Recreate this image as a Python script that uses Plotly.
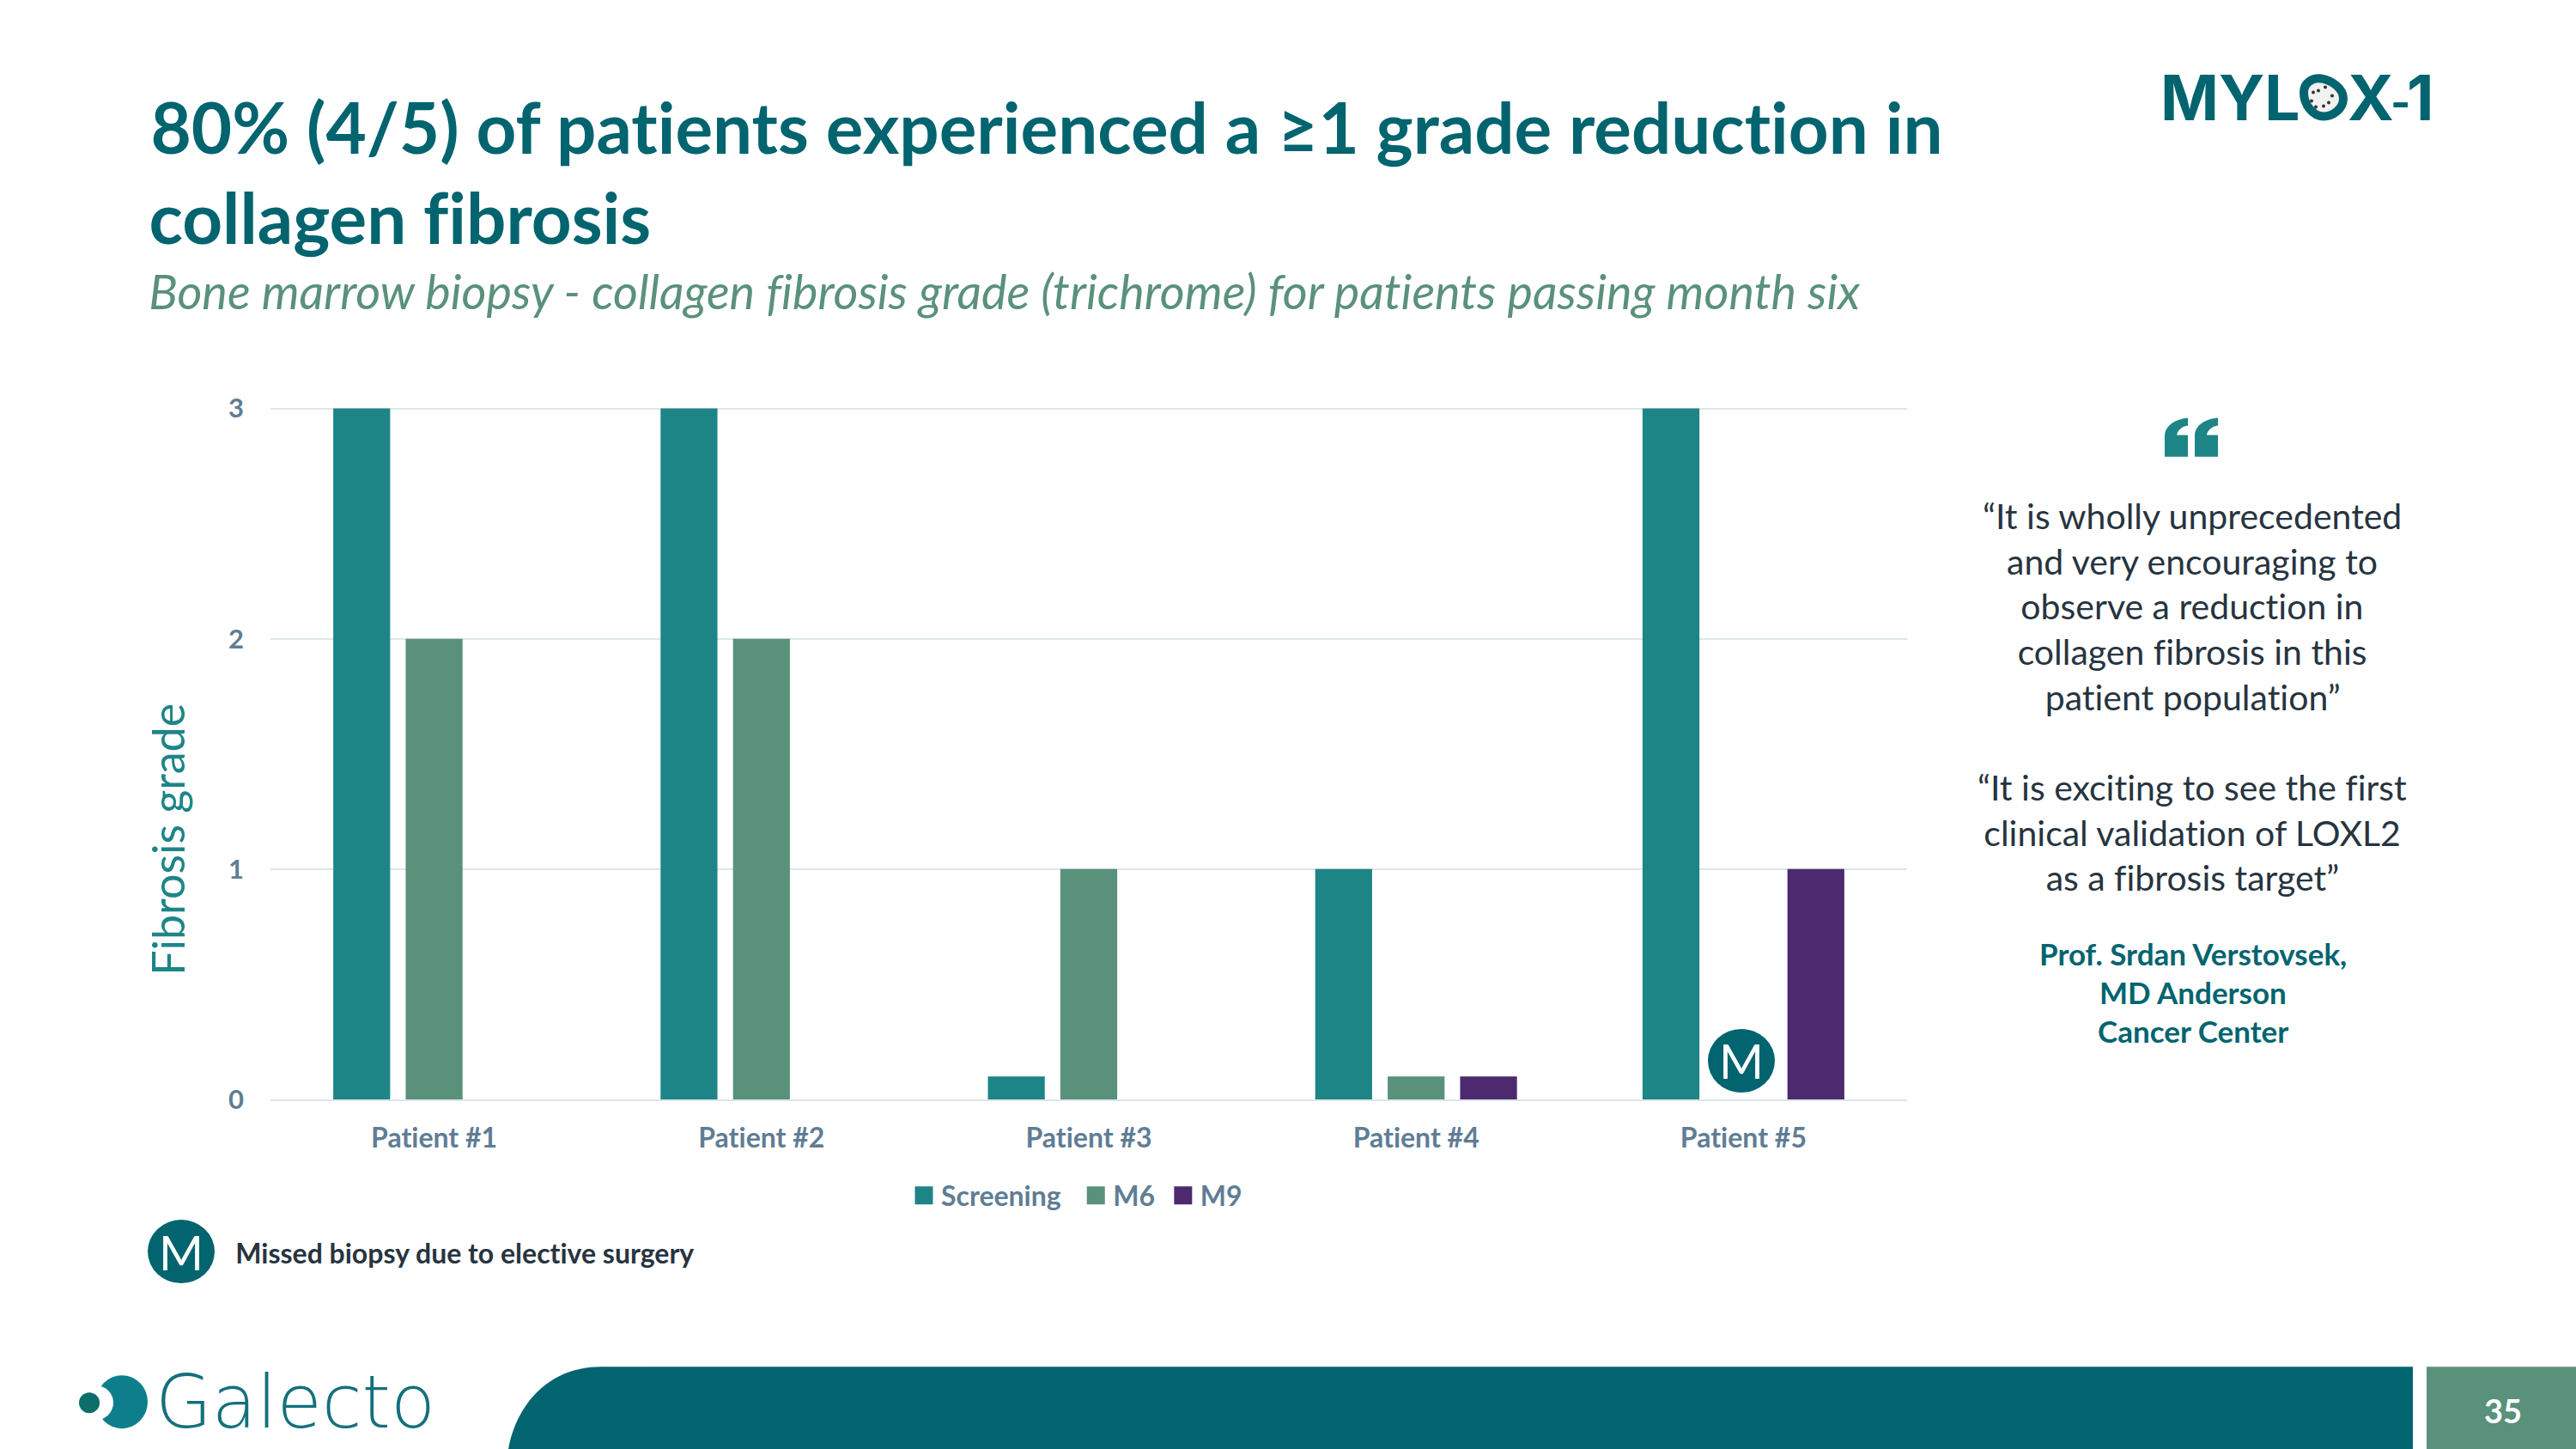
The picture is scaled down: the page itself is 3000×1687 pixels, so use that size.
import plotly.graph_objects as go

# ---- data ----
patients = ["Patient #1", "Patient #2", "Patient #3", "Patient #4", "Patient #5"]
screening = [3, 3, 0.1, 1, 3]
m6 = [2, 2, 1, 0.1, None]
m9 = [None, None, None, 0.1, 1]
series_names = ["Screening", "M6", "M9"]
y_ticks = [0, 1, 2, 3]

title_lines = ["80% (4/5) of patients experienced a ≥1 grade reduction in", "collagen fibrosis"]
subtitle = "Bone marrow biopsy - collagen fibrosis grade (trichrome) for patients passing month six"
quote_lines = [
    ("“It is wholly unprecedented", 0), ("and very encouraging to", 1), ("observe a reduction in", 2),
    ("collagen fibrosis in this", 3), ("patient population”", 4),
    ("“It is exciting to see the first", 6), ("clinical validation of LOXL2", 7), ("as a fibrosis target”", 8),
]
attribution = ["Prof. Srdan Verstovsek,", "MD Anderson", "Cancer Center"]

# ---- style ----
W, H = 3000, 1687
L, R, T, B = 315, 2221, 474.4, 1280
Y_TOP = 3.006
TEAL_D = "#02646F"
TEAL = "#1E8587"
SAGE = "#5A917B"
PURPLE = "#4D2A70"
AXIS_TXT = "#5F7D95"
DARK = "#27343F"
GRID = "#DCE6EA"
FONT = "Lato"
colors = [TEAL, SAGE, PURPLE]
legend_pad = ["\u00a0\u00a0", "\u00a0", ""]


def fx(px):
    return (px - L) / (R - L)


def fy(py):
    return (B - py) / (B - T)


fig = go.Figure()
for name, vals, col in zip(series_names, [screening, m6, m9], colors):
    fig.add_trace(go.Bar(name=name, x=patients, y=vals, marker=dict(color=col, line=dict(width=0)),
                         legendgroup=name, showlegend=False))
# legend swatches (the bar swatch size is fixed and too small)
for name, pad, col in zip(series_names, legend_pad, colors):
    fig.add_trace(go.Scatter(name=name + pad, x=[None], y=[None], mode="markers",
                             legendgroup=name,
                             marker=dict(symbol="square", size=16, color=col, line=dict(color=col, width=5))))

annotations = []
shapes = []


def text(s, x, y, size, color, anchor="left", weight=400, style="normal", family=FONT, angle=0):
    annotations.append(dict(text=s, x=fx(x), y=fy(y), xref="paper", yref="paper", showarrow=False,
                            xanchor=anchor, yanchor="middle", textangle=angle,
                            font=dict(family=family, size=size, color=color, weight=weight, style=style)))


def circle(cx, cy, rx, ry, color):
    shapes.append(dict(type="circle", xref="paper", yref="paper", x0=fx(cx - rx), x1=fx(cx + rx),
                       y0=fy(cy + ry), y1=fy(cy - ry), fillcolor=color, line=dict(width=0)))


def path(cmds, fill, line_color=None, line_width=0):
    out = []
    for c in cmds:
        if isinstance(c, str):
            out.append(c)
        else:
            out.append(f"{fx(c[0]):.5f},{fy(c[1]):.5f}")
    shapes.append(dict(type="path", xref="paper", yref="paper", path=" ".join(out), fillcolor=fill,
                       line=dict(color=line_color or fill, width=line_width)))


# title block
text(title_lines[0], 172, 148, 81.7, TEAL_D, weight=700)
text(title_lines[1], 172, 253, 81.7, TEAL_D, weight=700)
text(subtitle, 172, 339, 55.8, SAGE, style="italic")

# y axis title
text("Fibrosis grade", 195, 978, 52, TEAL, anchor="center", angle=-90)

# MYLOX-1 logo
text("MYL", 2514, 114, 73, TEAL_D, weight=700, family="Inter")
text("X", 2732, 114, 73, TEAL_D, weight=700, family="Inter")
text("-", 2782, 120, 50, TEAL_D, weight=700, family="Inter")
text("1", 2836, 114, 73, TEAL_D, anchor="right", weight=700, family="Inter")
path(["M", (2683, 108), "C", (2683, 96), (2694, 91), (2703, 92), "C", (2716, 94), (2729, 104), (2729, 115),
      "C", (2729, 128), (2716, 136), (2706, 136), "C", (2693, 136), (2683, 122), (2683, 108), "Z"],
     "#F1F1F1", TEAL_D, 10)
for dx, dy in [(2700, 106), (2694, 108), (2692, 118), (2697, 125), (2712, 120), (2706, 124), (2716, 112), (2708, 102)]:
    circle(dx, dy, 2, 2, "#333333")

# quote mark
for x0 in (2521, 2556):
    path(["M", (x0, 532), "L", (x0, 508), "C", (x0, 496), (x0 + 12, 488), (x0 + 27, 487), "L", (x0 + 27, 496),
          "C", (x0 + 20, 497), (x0 + 15, 501), (x0 + 14, 507), "L", (x0 + 27, 507), "L", (x0 + 27, 532), "Z"], TEAL)

# quotes
for s, i in quote_lines:
    text(s, 2553, 601 + i * 52.6, 41, DARK, anchor="center")
for i, s in enumerate(attribution):
    text(s, 2554, 1110 + i * 45, 35, TEAL_D, anchor="center", weight=700)

# M badges
circle(2028, 1235, 39, 37, TEAL_D)
text("M", 2028, 1235, 56, "#FFFFFF", anchor="center")
circle(211, 1457, 39, 37, TEAL_D)
text("M", 211, 1457, 56, "#FFFFFF", anchor="center")
text("Missed biopsy due to elective surgery", 272, 1458, 32, DARK, weight=700)

# footer
path(["M", (592, 1687), "C", (600, 1640), (635, 1591), (700, 1591), "L", (2810, 1591), "L", (2810, 1687), "Z"], TEAL_D)
shapes.append(dict(type="rect", xref="paper", yref="paper", x0=fx(2826), x1=fx(3000), y0=fy(1687), y1=fy(1591),
                   fillcolor=SAGE, line=dict(width=0)))
text("35", 2915, 1642, 38, "#FFFFFF", anchor="center", weight=700)

# Galecto logo
circle(142, 1632, 30, 31, "#0E7E8C")
circle(112, 1633, 20, 20, "#FFFFFF")
circle(104, 1633, 12, 12, "#0B6E6A")
text("Galecto", 179, 1632, 85, "#14707C", weight=200, family="DejaVu Sans")

fig.update_layout(
    width=W, height=H, autosize=False, paper_bgcolor="white", plot_bgcolor="white",
    margin=dict(l=L, r=W - R, t=T, b=H - B, pad=0),
    barmode="group", bargap=0.336, bargroupgap=0.215,
    font=dict(family=FONT),
    showlegend=True,
    legend=dict(orientation="h", x=fx(1056), xanchor="left", y=fy(1392), yanchor="middle",
                itemsizing="trace", font=dict(family=FONT, size=32, color=AXIS_TXT, weight=700),
                bgcolor="rgba(0,0,0,0)"),
    annotations=annotations, shapes=shapes,
)
fig.update_xaxes(showgrid=False, showline=True, linecolor=GRID, linewidth=2, ticks="",
                 ticklabelstandoff=16, tickfont=dict(family=FONT, size=32, color=AXIS_TXT, weight=700))
fig.update_yaxes(range=[0, Y_TOP], tickvals=y_ticks, showgrid=True, gridcolor=GRID, gridwidth=2, zeroline=False,
                 showline=False, ticks="", ticklabelstandoff=30,
                 tickfont=dict(family=FONT, size=31, color=AXIS_TXT, weight=700))

fig.write_html(
    "out.html",
    config={"displayModeBar": False},
    post_script="document.body.style.margin='0';"
                "var s=document.createElement('style');"
                "s.textContent='svg text{font-variant-ligatures:none !important;"
                "font-feature-settings:\"liga\" 0,\"clig\" 0,\"dlig\" 0 !important}';"
                "document.head.appendChild(s);",
)
